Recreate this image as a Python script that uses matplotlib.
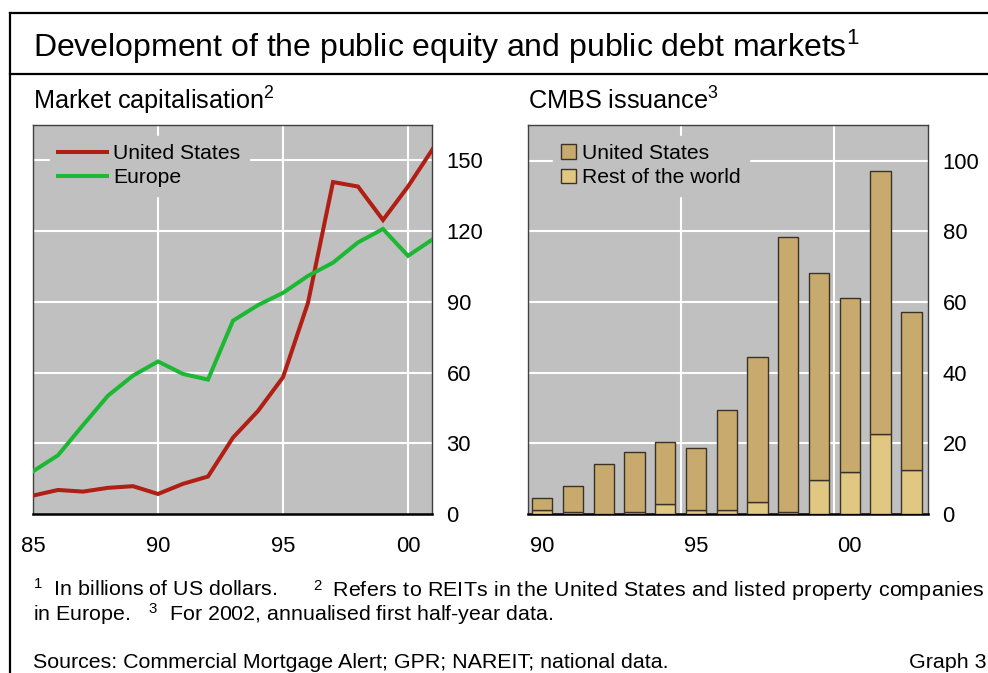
import matplotlib
matplotlib.use("Agg")
import matplotlib.pyplot as plt
import numpy as np
from matplotlib.lines import Line2D
from matplotlib.patches import Patch
from matplotlib import font_manager
from matplotlib.ft2font import FT2Font

plt.rcParams['font.family'] = ['Liberation Sans', 'DejaVu Sans']
plt.rcParams['mathtext.fontset'] = 'custom'
plt.rcParams['mathtext.rm'] = 'Liberation Sans'
plt.rcParams['mathtext.it'] = 'Liberation Sans'
plt.rcParams['mathtext.bf'] = 'Liberation Sans'

# ---- Data ----
years_cap = [1985, 1986, 1987, 1988, 1989, 1990, 1991, 1992, 1993, 1994, 1995,
             1996, 1997, 1998, 1999, 2000, 2001]
us_cap = [7.8, 10.2, 9.5, 11.1, 11.8, 8.5, 12.8, 15.9, 32.4, 43.7, 58.0,
          89.6, 140.8, 138.9, 124.7, 138.9, 155.0]
europe_cap = [18.1, 24.9, 37.7, 50.2, 58.7, 64.7, 59.4, 57.0, 82.0, 88.6, 93.8,
              101.0, 106.6, 115.2, 120.9, 109.5, 116.6]

years_cmbs = [1990, 1991, 1992, 1993, 1994, 1995, 1996, 1997, 1998, 1999, 2000, 2001, 2002]
cmbs_total = [4.5, 7.9, 14.2, 17.5, 20.4, 18.7, 29.5, 44.3, 78.4, 68.1, 61.2, 97.0, 57.3]
cmbs_row = [1.1, 0.6, 0.0, 0.6, 2.7, 1.1, 1.1, 3.3, 0.6, 9.6, 11.9, 22.6, 12.4]
cmbs_us = [t - r for t, r in zip(cmbs_total, cmbs_row)]

cap_xticks = [1985, 1990, 1995, 2000]
cap_xticklabels = ['85', '90', '95', '00']
cap_yticks = [0, 30, 60, 90, 120, 150]
cmbs_xticks = [1990, 1995, 2000]
cmbs_xticklabels = ['90', '95', '00']
cmbs_yticks = [0, 20, 40, 60, 80, 100]

W, H = 988, 673
fig = plt.figure(figsize=(W / 100, H / 100), dpi=100)

def fx(px):
    return px / W

def fy(py):
    return 1 - py / H

BG = '#c0c0c0'
RED = '#b01e14'
GREEN = '#1cb834'
US_BAR = '#c8aa6e'
ROW_BAR = '#e0c883'
TICKFS = 15.8
LEGFS = 15.2
NOTEFS = 15.4

def style_axes(ax):
    ax.set_facecolor(BG)
    for s in ['left', 'top', 'right']:
        ax.spines[s].set_color('#404040')
        ax.spines[s].set_linewidth(1.0)
    ax.spines['bottom'].set_color('black')
    ax.spines['bottom'].set_linewidth(1.8)
    ax.yaxis.tick_right()
    ax.tick_params(axis='both', length=0, labelsize=TICKFS)
    ax.tick_params(axis='y', pad=10.5)
    ax.tick_params(axis='x', pad=15.5)
    ax.grid(False)

# ---- Left axes ----
ax1 = fig.add_axes([fx(33), fy(514), fx(432) - fx(33), (514 - 125) / H])
style_axes(ax1)
ax1.set_xlim(1985, 2000.96)
ax1.set_ylim(0, 165)
for yv in cap_yticks[1:]:
    ax1.axhline(yv, color='white', lw=1.5, zorder=1)
for xv in cap_xticks[1:]:
    ax1.axvline(xv, color='white', lw=1.5, zorder=1)
ax1.plot(years_cap, us_cap, color=RED, lw=2.9, zorder=3, label='United States',
         solid_joinstyle='miter')
ax1.plot(years_cap, europe_cap, color=GREEN, lw=2.9, zorder=3, label='Europe',
         solid_joinstyle='miter')
ax1.set_xticks(cap_xticks)
ax1.set_xticklabels(cap_xticklabels)
ax1.set_yticks(cap_yticks)
leg1 = ax1.legend(loc='upper left', fontsize=LEGFS, frameon=True, facecolor=BG,
                  edgecolor=BG, framealpha=1, fancybox=False, handlelength=2.3,
                  handletextpad=0.3, labelspacing=0.25, borderaxespad=0.5,
                  borderpad=0.4, bbox_to_anchor=(0.016, 1.0))
leg1.set_zorder(2)

# ---- Right axes ----
ax2 = fig.add_axes([fx(528), fy(514), fx(928) - fx(528), (514 - 125) / H])
style_axes(ax2)
ax2.set_xlim(1989.54, 2002.54)
ax2.set_ylim(0, 110.1)
for yv in cmbs_yticks[1:]:
    ax2.axhline(yv, color='white', lw=1.5, zorder=1)
for xv in [1994.5, 1999.5]:
    ax2.axvline(xv, color='white', lw=1.5, zorder=1)
ax2.bar(years_cmbs, cmbs_row, width=0.66, color=ROW_BAR, edgecolor='#3a3325',
        linewidth=1.0, zorder=3, label='Rest of the world')
ax2.bar(years_cmbs, cmbs_us, bottom=cmbs_row, width=0.66, color=US_BAR,
        edgecolor='#3a3325', linewidth=1.0, zorder=3, label='United States')
ax2.set_xticks(cmbs_xticks)
ax2.set_xticklabels(cmbs_xticklabels)
ax2.set_yticks(cmbs_yticks)
handles = [Patch(facecolor=US_BAR, edgecolor='#3a3325', label='United States'),
           Patch(facecolor=ROW_BAR, edgecolor='#3a3325', label='Rest of the world')]
leg2 = ax2.legend(handles=handles, loc='upper left', fontsize=LEGFS, frameon=True,
                  facecolor=BG, edgecolor=BG, framealpha=1, fancybox=False,
                  handlelength=0.7, handleheight=0.7, handletextpad=0.3,
                  labelspacing=0.25, borderaxespad=0.5, borderpad=0.4,
                  bbox_to_anchor=(0.035, 1.0))
leg2.set_zorder(2)

# ---- Frame lines ----
lw_frame = 1.6
fig.add_artist(Line2D([fx(10), fx(10)], [fy(13), 0], color='black', lw=lw_frame))
fig.add_artist(Line2D([fx(10), 1], [fy(13), fy(13)], color='black', lw=lw_frame))
fig.add_artist(Line2D([fx(10), 1], [fy(74), fy(74)], color='black', lw=lw_frame))

# ---- Texts ----
fig.text(fx(33), fy(57), 'Development of the public equity and public debt markets$^{1}$',
         fontsize=23, ha='left', va='baseline')
fig.text(fx(33), fy(110), 'Market capitalisation$^{2}$', fontsize=18.2,
         ha='left', va='baseline')
fig.text(fx(528), fy(110), 'CMBS issuance$^{3}$', fontsize=18.2,
         ha='left', va='baseline')

# footnote line 1 (justified like the original: letters spread evenly)
fig.text(fx(33), fy(596), '$^{1}$  In billions of US dollars.',
         fontsize=NOTEFS, ha='left', va='baseline')
fig.text(fx(313), fy(596), '$^{2}$', fontsize=NOTEFS, ha='left', va='baseline')

font_path = font_manager.findfont(font_manager.FontProperties(family='Liberation Sans'))
ft = FT2Font(font_path)
ft.set_size(NOTEFS, 100)

def adv(ch):
    g = ft.load_char(ord(ch))
    return g.linearHoriAdvance / 65536.0

line = 'Refers to REITs in the United States and listed property companies'
x_start, x_end = 332, 983
advs = [adv(c) for c in line]
natural = sum(advs[:-1])
last_w = advs[-1]
track = (x_end - x_start - natural - last_w) / (len(line) - 1)
xpos = x_start
for ch, a in zip(line, advs):
    if ch != ' ':
        fig.text(fx(xpos), fy(596), ch, fontsize=NOTEFS, ha='left', va='baseline')
    xpos += a + track

fig.text(fx(33), fy(621),
         'in Europe.   $^{3}$  For 2002, annualised first half-year data.',
         fontsize=NOTEFS, ha='left', va='baseline')
fig.text(fx(33), fy(668), 'Sources: Commercial Mortgage Alert; GPR; NAREIT; national data.',
         fontsize=NOTEFS, ha='left', va='baseline')
fig.text(fx(986), fy(668), 'Graph 3', fontsize=NOTEFS, ha='right', va='baseline')

fig.savefig('out.png', dpi=100)
